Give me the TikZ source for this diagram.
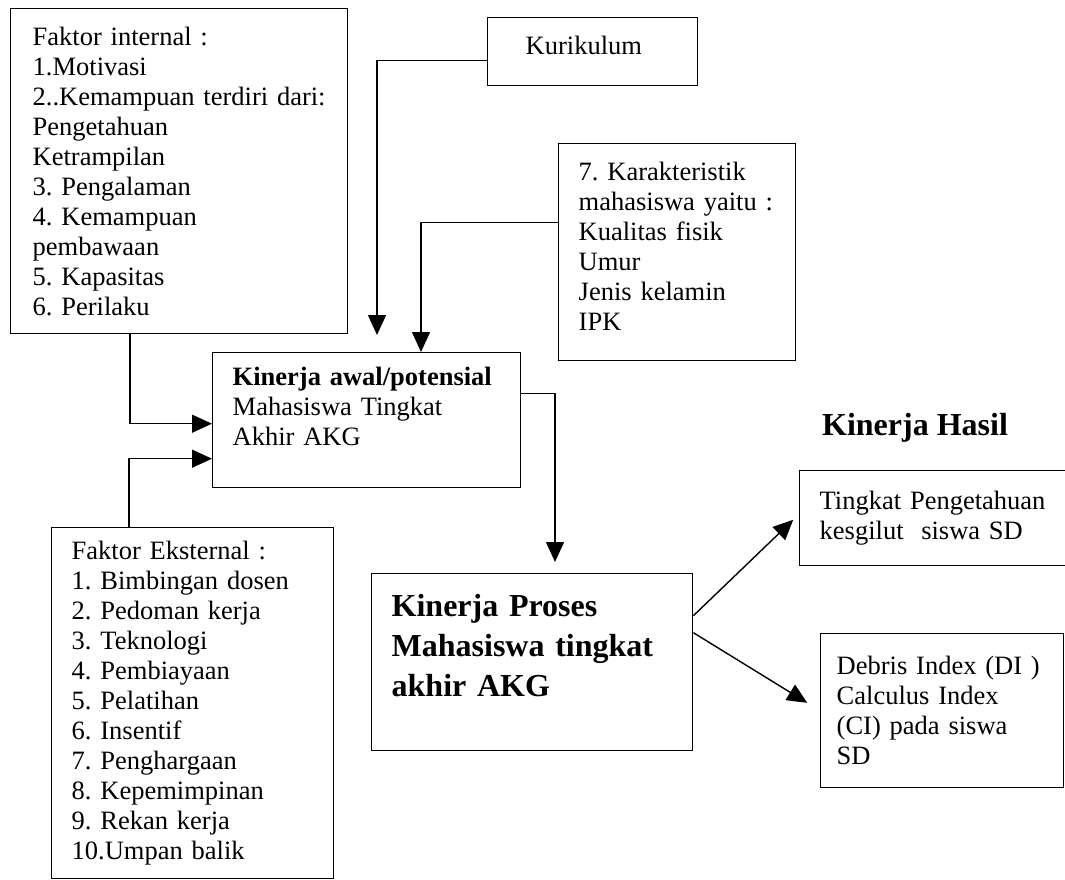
\documentclass[tikz,border=0pt]{standalone}
\usepackage{fontspec}
\setmainfont{Liberation Serif}
\frenchspacing
\usetikzlibrary{arrows.meta}

\begin{document}
\begin{tikzpicture}[x=1pt, y=-1pt,
  kotak/.style={draw, line width=1.4pt, anchor=north west, align=left, inner ysep=0pt,
    font=\fontsize{26.5}{30}\selectfont},
  panah/.style={line width=1.4pt, -{Triangle[length=20pt,width=18pt]}}]

  \useasboundingbox (0,0) rectangle (1065,880);

  % boxes
  \node[kotak, inner xsep=22pt, text width=293pt, minimum height=325pt] (internal) at (10,8)
    {Faktor internal :\\1.Motivasi\\2..Kemampuan terdiri dari:\\Pengetahuan\\Ketrampilan\\3. Pengalaman\\4. Kemampuan\\pembawaan\\5. Kapasitas\\6. Perilaku};
  \node[kotak, inner xsep=38pt, text width=134pt, minimum height=68pt] (kurikulum) at (487,17)
    {Kurikulum\\[-18pt]\mbox{}};
  \node[kotak, inner xsep=20pt, text width=197pt, minimum height=217pt] (karakter) at (558,143)
    {7. Karakteristik\\mahasiswa yaitu :\\Kualitas fisik\\Umur\\Jenis kelamin\\IPK\\[-18pt]\mbox{}};
  \node[kotak, inner xsep=20pt, text width=268pt, minimum height=135pt] (awal) at (212,352)
    {\textbf{Kinerja awal/potensial}\\Mahasiswa Tingkat\\Akhir AKG\\[-2pt]\mbox{}};
  \node[kotak, inner xsep=20pt, text width=242pt, minimum height=351pt] (eksternal) at (51,527)
    {Faktor Eksternal :\\1. Bimbingan dosen\\2. Pedoman kerja\\3. Teknologi\\4. Pembiayaan\\5. Pelatihan\\6. Insentif\\7. Penghargaan\\8. Kepemimpinan\\9. Rekan kerja\\10.Umpan balik};
  \node[kotak, inner xsep=20pt, text width=281pt, minimum height=177pt,
    font=\bfseries\fontsize{32}{40}\selectfont] (proses) at (371,573)
    {Kinerja Proses\\Mahasiswa tingkat\\akhir AKG\\[-6pt]\mbox{}};
  \node[kotak, inner xsep=20pt, text width=226pt, minimum height=95pt] (tingkat) at (799,470)
    {Tingkat Pengetahuan\\kesgilut~ siswa SD};
  \node[kotak, inner xsep=16pt, text width=211pt, minimum height=154pt] (debris) at (820,633)
    {Debris Index (DI )\\Calculus Index\\(CI) pada siswa\\SD};
  \node[font=\bfseries\fontsize{32}{40}\selectfont] (hasil) at (915,428) {Kinerja Hasil};

  % arrows
  \draw[panah] ([xshift=120pt]internal.south west) |- ([yshift=-3.5pt]awal.west);
  \draw[panah] ([xshift=78pt]eksternal.north west) |- ([yshift=-38.5pt]awal.west);
  \draw[panah, shorten >=17pt] ([yshift=-9pt]kurikulum.west) -| ([xshift=165pt]awal.north west);
  \draw[panah] ([yshift=29.5pt]karakter.west) -| ([xshift=209pt]awal.north west);
  \draw[panah, shorten >=11pt] ([yshift=26.5pt]awal.east) -| ([xshift=184pt]proses.north west);
  \draw[panah, shorten >=8pt] ([yshift=46.5pt]proses.east) -- ([yshift=4pt]tingkat.west);
  \draw[panah, shorten >=15pt] ([yshift=29.5pt]proses.east) -- (debris.west);
\end{tikzpicture}
\end{document}
